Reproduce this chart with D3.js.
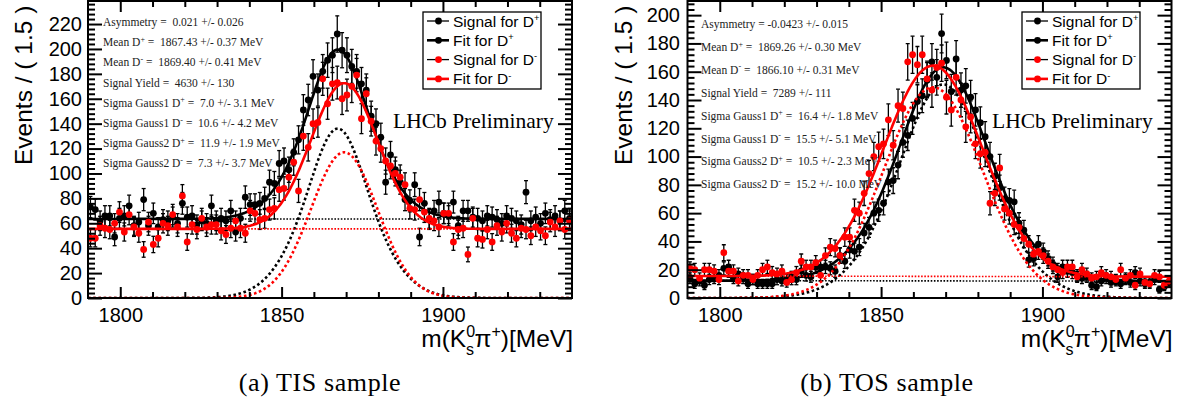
<!DOCTYPE html>
<html>
<head>
<meta charset="utf-8">
<script src="https://cdn.jsdelivr.net/npm/d3@7"></script>
<style>
  body { margin: 0; background: #fff; }
  svg { display: block; }
  text { white-space: pre; }
</style>
</head>
<body>
<svg id="chart" width="1182" height="405"></svg>
<script>
// ---- binning of the invariant-mass axis ----
const massDomain = [1790, 1940];
const binWidth = 1.5;

// ---- TIS sample: events per bin ----
const tisDplus = [
  73, 71, 62, 66, 66, 49, 64, 66, 74, 58,
  61, 79, 58, 68, 57, 63, 62, 65, 60, 76,
  65, 66, 59, 62, 60, 74, 62, 64, 62, 70,
  53, 64, 81, 75, 75, 76, 80, 93, 92, 108,
  110, 103, 117, 127, 151, 159, 178, 167, 182, 191,
  195, 212, 199, 195, 186, 182, 172, 167, 146, 140,
  129, 93, 115, 103, 93, 79, 78, 91, 49, 76,
  63, 70, 77, 68, 66, 77, 58, 70, 70, 65,
  64, 62, 66, 65, 63, 60, 66, 64, 62, 59,
  85, 62, 65, 60, 68, 63, 66, 62, 70, 64
];
const tisDminus = [
  48, 48, 58, 56, 55, 60, 69, 53, 67, 57,
  52, 39, 61, 43, 48, 60, 58, 67, 57, 82,
  45, 59, 55, 64, 57, 59, 59, 54, 51, 56,
  62, 56, 52, 70, 68, 63, 64, 71, 72, 87,
  88, 97, 109, 86, 130, 121, 140, 141, 176, 156,
  172, 173, 160, 163, 170, 179, 144, 164, 142, 126,
  120, 110, 106, 100, 97, 91, 72, 71, 79, 69,
  64, 62, 57, 68, 68, 45, 55, 56, 35, 64,
  48, 47, 55, 45, 58, 53, 60, 52, 48, 56,
  55, 50, 57, 54, 50, 61, 57, 62, 55, 62
];

// ---- TOS sample: events per bin ----
const tosDplus = [
  14, 10, 12, 9, 13, 14, 16, 21, 22, 14,
  17, 14, 10, 13, 10, 10, 10, 10, 13, 12,
  13, 15, 13, 19, 16, 15, 22, 22, 22, 21,
  19, 30, 26, 34, 33, 36, 46, 50, 60, 62,
  67, 82, 83, 94, 110, 115, 127, 139, 143, 154,
  167, 156, 187, 168, 146, 169, 147, 150, 142, 133,
  124, 114, 100, 86, 78, 70, 69, 68, 53, 48,
  27, 28, 38, 33, 28, 24, 15, 22, 19, 18,
  16, 14, 15, 9, 8, 12, 14, 11, 12, 10,
  13, 11, 18, 12, 10, 11, 13, 6, 8, 11
];
const tosDminus = [
  21, 20, 14, 20, 20, 19, 13, 32, 19, 19,
  12, 16, 16, 13, 16, 20, 22, 18, 17, 19,
  11, 13, 18, 26, 22, 22, 25, 16, 30, 36,
  35, 30, 43, 43, 62, 60, 74, 88, 100, 107,
  109, 126, 108, 136, 134, 167, 172, 165, 172, 155,
  147, 163, 166, 142, 133, 156, 140, 121, 128, 109,
  102, 103, 67, 74, 92, 63, 60, 52, 50, 42,
  38, 31, 33, 30, 26, 22, 20, 18, 22, 22,
  15, 20, 17, 14, 15, 18, 16, 15, 13, 20,
  14, 16, 9, 17, 11, 10, 16, 15, 9, 12
];

// ---- fit results: [D+, D-] ----
const tisMeans = [1867.43, 1869.40];
const tisSigmas = [[7.0, 11.9], [10.6, 7.3]];
const tisFractions = [[0.32, 0.68], [0.95, 0.05]];
const tisPeaks = [136, 117];
const tisBackgrounds = [[63.5, 63.5], [55.5, 55.5]];

const tosMeans = [1869.26, 1866.10];
const tosSigmas = [[16.4, 10.5], [15.5, 15.2]];
const tosFractions = [[0.7, 0.3], [0.5, 0.5]];
const tosPeaks = [151, 149];
const tosBackgrounds = [[12.3, 11.9], [15.6, 15.0]];

// ---- text ----
const tisStats = [
  "Asymmetry =  0.021 +/- 0.026",
  "Mean D^+ =  1867.43 +/- 0.37 MeV",
  "Mean D^- =  1869.40 +/- 0.41 MeV",
  "Signal Yield =  4630 +/- 130",
  "Sigma Gauss1 D^+ =  7.0 +/- 3.1 MeV",
  "Sigma Gauss1 D^- =  10.6 +/- 4.2 MeV",
  "Sigma Gauss2 D^+ =  11.9 +/- 1.9 MeV",
  "Sigma Gauss2 D^- =  7.3 +/- 3.7 MeV"
];
const tosStats = [
  "Asymmetry = -0.0423 +/- 0.015",
  "Mean D^+ =  1869.26 +/- 0.30 MeV",
  "Mean D^- =  1866.10 +/- 0.31 MeV",
  "Signal Yield =  7289 +/- 111",
  "Sigma Gauss1 D^+ =  16.4 +/- 1.8 MeV",
  "Sigma Gauss1 D^- =  15.5 +/- 5.1 MeV",
  "Sigma Gauss2 D^+ =  10.5 +/- 2.3 MeV",
  "Sigma Gauss2 D^- =  15.2 +/- 10.0 MeV"
];
const legendLabels = ["Signal for D^+", "Fit for D^+", "Signal for D^-", "Fit for D^-"];
const seriesColors = ["#000000", "#ff0000"];
const xMajorTicks = [1800, 1850, 1900];
const yTickStep = 20;

const SANS = "'Liberation Sans', Arial, Helvetica, sans-serif";
const SERIF = "'Liberation Serif', 'Times New Roman', serif";

const panels = [
  {
    key: "tis", left: 88, right: 572, top: 1, bottom: 298, yMax: 238.5,
    data: [tisDplus, tisDminus],
    means: tisMeans, sigmas: tisSigmas, fractions: tisFractions,
    peaks: tisPeaks, backgrounds: tisBackgrounds,
    stats: tisStats, statsX: 103, statsY: 26, statsStep: 20.2, yPad: 6,
    legendX: 423, caption: "(a) TIS sample", captionX: 320
  },
  {
    key: "tos", left: 687.5, right: 1171.5, top: 1, bottom: 298, yMax: 210,
    data: [tosDplus, tosDminus],
    means: tosMeans, sigmas: tosSigmas, fractions: tosFractions,
    peaks: tosPeaks, backgrounds: tosBackgrounds,
    stats: tosStats, statsX: 701, statsY: 28, statsStep: 22.9, yPad: 7.5,
    legendX: 1022, caption: "(b) TOS sample", captionX: 887
  }
];

const svg = d3.select("#chart");

// text with "^x" superscripts; the baseline returns on the segment after each superscript
function richText(sel, str, size, supScale) {
  const parts = str.split(/\^(.)/);
  const shift = size * 0.38;
  let pending = 0;
  parts.forEach((p, k) => {
    if (p === "") return;
    const ts = sel.append("tspan").text(p);
    if (k % 2 === 1) {
      ts.attr("font-size", size * supScale).attr("dy", pending - shift);
      pending = shift;
    } else {
      if (pending) ts.attr("dy", pending);
      pending = 0;
    }
  });
}

function signalShape(m, mean, sigmas, fracs) {
  let s = 0;
  sigmas.forEach((sg, k) => { s += fracs[k] * Math.exp(-((m - mean) ** 2) / (2 * sg * sg)); });
  return s;
}

panels.forEach(P => {
  const g = svg.append("g").attr("class", "panel-" + P.key);
  const x = d3.scaleLinear().domain(massDomain).range([P.left, P.right]);
  const y = d3.scaleLinear().domain([0, P.yMax]).range([P.bottom, P.top]);

  const clipId = "clip-" + P.key;
  svg.append("clipPath").attr("id", clipId).append("rect")
    .attr("x", P.left).attr("y", P.top).attr("width", P.right - P.left).attr("height", P.bottom - P.top);
  const plot = g.append("g").attr("clip-path", `url(#${clipId})`);

  // ---- axes and frame ----
  const yMajor = d3.range(0, P.yMax + 0.001, yTickStep);
  const yMinor = d3.range(0, P.yMax + 0.001, yTickStep / 5).filter(v => v % yTickStep !== 0);
  const xMinor = d3.range(massDomain[0] + 10, massDomain[1], 10).filter(v => !xMajorTicks.includes(v));

  const axisStyle = a => {
    a.select(".domain").remove();
    a.selectAll("line").attr("stroke", "#000").attr("stroke-width", 2);
    a.selectAll("text").attr("font-family", SANS).attr("font-size", 20).attr("fill", "#000");
  };

  g.append("g").attr("transform", `translate(${P.left},0)`)
    .call(d3.axisLeft(y).tickValues(yMajor).tickSize(-14).tickPadding(P.yPad)).call(axisStyle);
  g.append("g").attr("transform", `translate(${P.left},0)`)
    .call(d3.axisLeft(y).tickValues(yMinor).tickSize(-7).tickFormat("")).call(axisStyle);
  g.append("g").attr("transform", `translate(${P.right},0)`)
    .call(d3.axisRight(y).tickValues(yMajor).tickSize(-14).tickFormat("")).call(axisStyle);
  g.append("g").attr("transform", `translate(${P.right},0)`)
    .call(d3.axisRight(y).tickValues(yMinor).tickSize(-7).tickFormat("")).call(axisStyle);
  g.append("g").attr("transform", `translate(0,${P.bottom})`)
    .call(d3.axisBottom(x).tickValues(xMajorTicks).tickSize(-11).tickPadding(10).tickFormat(d3.format("d"))).call(axisStyle);
  g.append("g").attr("transform", `translate(0,${P.bottom})`)
    .call(d3.axisBottom(x).tickValues(xMinor).tickSize(-6).tickFormat("")).call(axisStyle);
  g.append("g").attr("transform", `translate(0,${P.top})`)
    .call(d3.axisTop(x).tickValues(xMajorTicks).tickSize(-11).tickFormat("")).call(axisStyle);
  g.append("g").attr("transform", `translate(0,${P.top})`)
    .call(d3.axisTop(x).tickValues(xMinor).tickSize(-6).tickFormat("")).call(axisStyle);

  g.append("rect").attr("x", P.left).attr("y", P.top)
    .attr("width", P.right - P.left).attr("height", P.bottom - P.top)
    .attr("fill", "none").attr("stroke", "#000").attr("stroke-width", 2);

  // ---- data and fits, D+ first then D- ----
  const fine = d3.range(massDomain[0], massDomain[1] + 0.01, 0.25);
  [0, 1].forEach(s => {
    const col = seriesColors[s];
    const counts = P.data[s];
    const centers = counts.map((_, i) => massDomain[0] + binWidth * (i + 0.5));
    const bkg = m => P.backgrounds[s][0] + (P.backgrounds[s][1] - P.backgrounds[s][0]) *
      (m - massDomain[0]) / (massDomain[1] - massDomain[0]);
    const sig = m => P.peaks[s] * signalShape(m, P.means[s], P.sigmas[s], P.fractions[s]);

    // error bars
    const eb = plot.append("g").attr("stroke", "#000").attr("stroke-width", 1.3);
    counts.forEach((n, i) => {
      const cx = x(centers[i]);
      const e = Math.sqrt(n);
      const y1 = y(n + e), y0 = y(Math.max(n - e, 0));
      eb.append("line").attr("x1", cx).attr("x2", cx).attr("y1", y1).attr("y2", y0);
      eb.append("line").attr("x1", cx - 2).attr("x2", cx + 2).attr("y1", y1).attr("y2", y1);
      eb.append("line").attr("x1", cx - 2).attr("x2", cx + 2).attr("y1", y0).attr("y2", y0);
    });
    // markers
    plot.append("g").selectAll("circle").data(counts).join("circle")
      .attr("cx", (n, i) => x(centers[i])).attr("cy", n => y(n))
      .attr("r", 3.4).attr("fill", col);

    // component curves
    plot.append("path").datum(fine)
      .attr("d", d3.line().x(m => x(m)).y(m => y(bkg(m))))
      .attr("fill", "none").attr("stroke", col).attr("stroke-width", 1.6)
      .attr("stroke-dasharray", "1.6,1.6");
    plot.append("path").datum(fine)
      .attr("d", d3.line().x(m => x(m)).y(m => y(sig(m))))
      .attr("fill", "none").attr("stroke", col).attr("stroke-width", 2.6)
      .attr("stroke-dasharray", "2.6,2.6");
    // total fit
    plot.append("path").datum(fine)
      .attr("d", d3.line().x(m => x(m)).y(m => y(sig(m) + bkg(m))))
      .attr("fill", "none").attr("stroke", col).attr("stroke-width", 2.6);
  });

  // ---- fit summary text ----
  P.stats.forEach((line, k) => {
    const t = g.append("text").attr("x", P.statsX).attr("y", P.statsY + k * P.statsStep)
      .attr("font-family", SERIF).attr("font-size", 11.5).attr("fill", "#222");
    richText(t, line, 11.5, 0.7);
  });

  // ---- legend ----
  const lg = g.append("g");
  lg.append("rect").attr("x", P.legendX).attr("y", 12).attr("width", 118).attr("height", 77)
    .attr("fill", "#fff").attr("stroke", "#000").attr("stroke-width", 1.3);
  legendLabels.forEach((lab, k) => {
    const cy = 21 + k * 19.3;
    const col = seriesColors[Math.floor(k / 2)];
    const isFit = k % 2 === 1;
    lg.append("line").attr("x1", P.legendX + 4).attr("x2", P.legendX + 26)
      .attr("y1", cy).attr("y2", cy)
      .attr("stroke", isFit ? col : "#000").attr("stroke-width", isFit ? 2.6 : 1.3);
    lg.append("circle").attr("cx", P.legendX + 15.5).attr("cy", cy).attr("r", 3.4).attr("fill", col);
    const t = lg.append("text").attr("x", P.legendX + 30).attr("y", cy + 5.5)
      .attr("font-family", SANS).attr("font-size", 15.5).attr("fill", "#000");
    richText(t, lab, 15.5, 0.6);
  });

  g.append("text").attr("x", P.legendX - 30).attr("y", 128)
    .attr("font-family", SERIF).attr("font-size", 21.5).attr("fill", "#000")
    .text("LHCb Preliminary");

  // ---- axis titles ----
  g.append("text")
    .attr("transform", `translate(${P.left - 56},165) rotate(-90)`)
    .attr("font-family", SANS).attr("font-size", 24.5).attr("fill", "#000")
    .text("Events / ( 1.5 )");

  const xt = g.append("text").attr("x", 0).attr("y", 347)
    .attr("font-family", SANS).attr("font-size", 24.5).attr("fill", "#000");
  xt.append("tspan").text("m(K");
  xt.append("tspan").attr("font-size", 16).attr("dy", -10).text("0");
  xt.append("tspan").attr("font-size", 16).attr("dy", 18).attr("dx", -9).text("s");
  xt.append("tspan").attr("dy", -8).attr("dx", 0.5).text("π");
  xt.append("tspan").attr("font-size", 16).attr("dy", -10).text("+");
  xt.append("tspan").attr("dy", 10).text(")[MeV]");
  const w = xt.node().getBBox().width;
  xt.attr("x", P.right + 1 - w);

  // ---- caption ----
  g.append("text").attr("x", P.captionX).attr("y", 391).attr("text-anchor", "middle")
    .attr("font-family", SERIF).attr("font-size", 26).attr("letter-spacing", 0.6).attr("fill", "#000")
    .text(P.caption);
});
</script>
</body>
</html>
